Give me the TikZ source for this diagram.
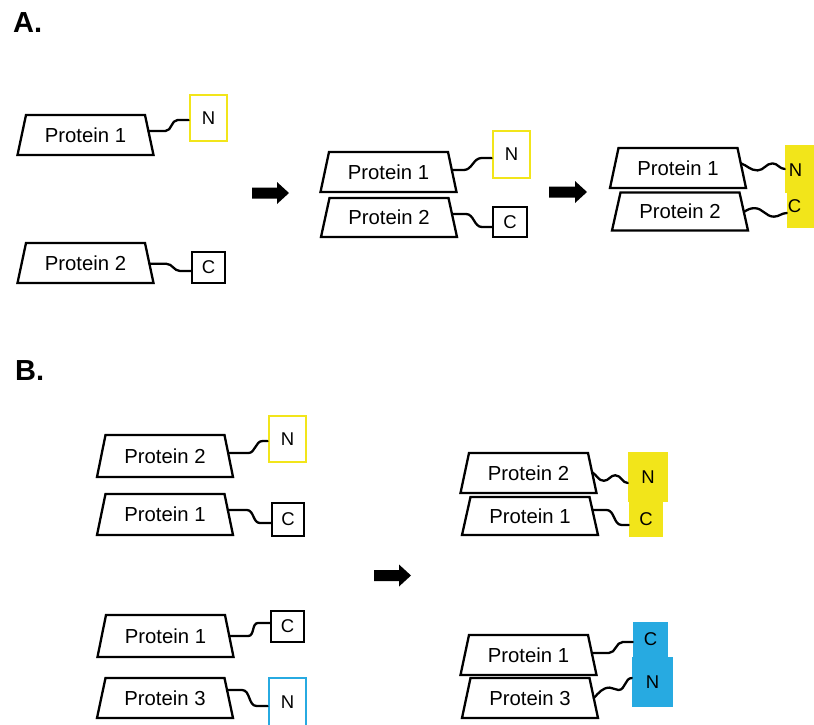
\documentclass[tikz,border=0pt]{standalone}
\usepackage{fontspec}
\setmainfont{Liberation Sans}
\usetikzlibrary{calc}
\definecolor{yel}{RGB}{242,229,26}
\definecolor{blu}{RGB}{39,170,225}
\newcommand\blkarr[3]{\fill[black] (#1,#3-5.5) -- (#2-12,#3-5.5) -- (#2-12,#3-11) -- (#2,#3) -- (#2-12,#3+11) -- (#2-12,#3+5.5) -- (#1,#3+5.5) -- cycle;}
% trapezoid protein: [height] name, centre, text
\newcommand\protein[4][40]{%
  \coordinate (#2-tr) at ($(#3)+(59.5,-#1/2)$);
  \coordinate (#2-br) at ($(#3)+(68,#1/2)$);
  \filldraw[protline] ($(#3)+(-59.5,-#1/2)$) -- (#2-tr) -- (#2-br) -- ($(#3)+(-68,#1/2)$) -- cycle;
  \node[prottext] (#2) at (#3) {#4};}
% straight-then-S wire: #1 protein, #2 fraction on right edge, #3 end coordinate, #4 flat start, #5 flat end
\newcommand\swire[5]{\draw[wire] ($(#1-tr)!#2!(#1-br)$) -- ++(#4,0) to[out=0,in=180] ($(#3)+(-#5,0)$) -- (#3);}
\tikzset{
  wire/.style={line width=2.3pt, line cap=round, line join=round},
  protline/.style={draw=black, fill=white, line width=2.3pt, line join=miter},
  prottext/.style={inner sep=0pt, font=\fontsize{20.3}{24}\selectfont},
  tagbox/.style={inner sep=0pt, font=\fontsize{18.5}{22}\selectfont},
  nbox/.style={tagbox, draw=yel, line width=2.8pt, fill=white},
  bbox/.style={tagbox, draw=blu, line width=2.8pt, fill=white},
  cbox/.style={tagbox, draw=black, line width=2pt, fill=white},
  yfill/.style={tagbox, fill=yel},
  bfill/.style={tagbox, fill=blu},
  panel/.style={font=\bfseries\fontsize{29}{34}\selectfont, anchor=base west, inner sep=0pt},
}
\begin{document}
\begin{tikzpicture}[x=1pt,y=-1pt]
\useasboundingbox (0,0) rectangle (814,724);
\clip (0,0) rectangle (814,724);

% panel labels
\node[panel] (labA) at (13,32) {A.};
\node[panel] (labB) at (15,380) {B.};

% ---------- A, left ----------
\protein{a1p1}{85.5,135}{Protein 1}
\protein{a1p2}{85.5,263}{Protein 2}
\node[nbox, minimum width=37pt, minimum height=46pt] (a1n) at (208.5,118) {N};
\node[cbox, minimum width=33pt, minimum height=31pt] (a1c) at (208.5,267.5) {C};
\coordinate (a1ne) at ($(a1n.west)+(0,2)$);
\coordinate (a1ce) at ($(a1c.west)+(0,3.5)$);
\swire{a1p1}{0.40}{a1ne}{17}{11}
\swire{a1p2}{0.52}{a1ce}{17}{11}

% ---------- A, middle ----------
\protein{a2p1}{388.5,172}{Protein 1}
\protein[39]{a2p2}{389,217.5}{Protein 2}
\node[nbox, minimum width=37pt, minimum height=47pt] (a2n) at (511.5,154.5) {N};
\node[cbox, minimum width=34pt, minimum height=30pt] (a2c) at (510,222) {C};
\coordinate (a2ne) at ($(a2n.west)+(0,3.5)$);
\coordinate (a2ce) at ($(a2c.west)+(0,5)$);
\swire{a2p1}{0.45}{a2ne}{12}{10}
\swire{a2p2}{0.41}{a2ce}{14}{10}

% ---------- A, right ----------
\protein{a3p1}{678,168}{Protein 1}
\protein[38]{a3p2}{680,211.5}{Protein 2}
\node[yfill, minimum width=29pt, minimum height=48pt] (a3n) at (799.5,169) {};
\node[yfill, minimum width=27pt, minimum height=35pt] (a3c) at (800.5,210.5) {};
\node[tagbox] (a3nt) at (795.5,170) {N};
\node[tagbox] (a3ct) at (794.5,206) {C};
\coordinate (a3ne) at (a3n.west);
\coordinate (a3ce) at ($(a3c.west)+(0,2.5)$);
\coordinate (a3s1) at ($(a3p1-tr)!0.38!(a3p1-br)$);
\coordinate (a3s2) at ($(a3p2-tr)!0.51!(a3p2-br)$);
\draw[wire] (a3s1) to[out=-20,in=180] ($(a3s1)!0.38!(a3ne)+(0,5)$)
  to[out=0,in=180] ($(a3s1)!0.72!(a3ne)+(0,-4)$) to[out=0,in=180] (a3ne);
\draw[wire] (a3s2) to[out=30,in=180] ($(a3s2)!0.25!(a3ce)+(0,-4)$)
  to[out=0,in=180] ($(a3s2)!0.7!(a3ce)+(0,4)$) to[out=0,in=180] (a3ce);

% arrows
\blkarr{252}{289}{193}
\blkarr{549}{587}{192}
\blkarr{374}{411}{575.5}

% ---------- B, left ----------
\protein[42]{b1p2}{165,456}{Protein 2}
\protein[41]{b1p1}{165,514.5}{Protein 1}
\protein[42]{b1p1b}{165.5,636}{Protein 1}
\protein{b1p3}{165,698}{Protein 3}
\node[nbox, minimum width=37pt, minimum height=46pt] (b1n) at (287.5,439) {N};
\node[cbox, minimum width=32pt, minimum height=33pt] (b1c) at (288,519.5) {C};
\node[cbox, minimum width=33pt, minimum height=31pt] (b1c2) at (287.5,626.5) {C};
\node[bbox, minimum width=37pt, minimum height=48pt] (b1n2) at (287.5,702) {N};
\coordinate (b1ne) at ($(b1n.west)+(0,2)$);
\coordinate (b1ce) at ($(b1c.west)+(0,3.5)$);
\coordinate (b1c2e) at ($(b1c2.west)+(0,-3.5)$);
\coordinate (b1n2e) at ($(b1n2.west)+(0,4)$);
\swire{b1p2}{0.43}{b1ne}{20}{5}
\swire{b1p1}{0.39}{b1ce}{19}{11}
\swire{b1p1b}{0.50}{b1c2e}{19}{12}
\swire{b1p3}{0.30}{b1n2e}{15}{11}

% ---------- B, right ----------
\protein{b2p2}{528.5,473}{Protein 2}
\protein[38]{b2p1}{530,516}{Protein 1}
\node[yfill, minimum width=40pt, minimum height=50pt] (b2n) at (648,477) {N};
\node[yfill, minimum width=34pt, minimum height=35pt] (b2c) at (646,519.5) {C};
\coordinate (b2ne) at ($(b2n.west)+(0,6)$);
\coordinate (b2ce) at ($(b2c.west)+(0,5.5)$);
\coordinate (b2s1) at ($(b2p2-tr)!0.48!(b2p2-br)$);
\draw[wire] (b2s1) to[out=-30,in=180] ($(b2s1)!0.33!(b2ne)+(0,5)$)
  to[out=0,in=180] ($(b2s1)!0.65!(b2ne)+(0,-4)$) to[out=0,in=180] (b2ne);
\swire{b2p1}{0.34}{b2ce}{14}{7}

\protein{b3p1}{528.5,655}{Protein 1}
\protein{b3p3}{530,698}{Protein 3}
\node[bfill, minimum width=35pt, minimum height=35pt] (b3c) at (650.5,639.5) {C};
\node[bfill, minimum width=41pt, minimum height=50pt] (b3n) at (652.5,682) {N};
\coordinate (b3ce) at ($(b3c.west)+(0,2.5)$);
\coordinate (b3ne) at ($(b3n.west)+(0,-4)$);
\swire{b3p1}{0.45}{b3ce}{17}{10}
\coordinate (b3s2) at ($(b3p3-tr)!0.50!(b3p3-br)$);
\draw[wire] (b3s2) to[out=45,in=180] ($(b3s2)!0.42!(b3ne)+(0,-2)$)
  to[out=0,in=180] ($(b3s2)!0.65!(b3ne)+(0,5)$) to[out=0,in=180] (b3ne);
\end{tikzpicture}
\end{document}
